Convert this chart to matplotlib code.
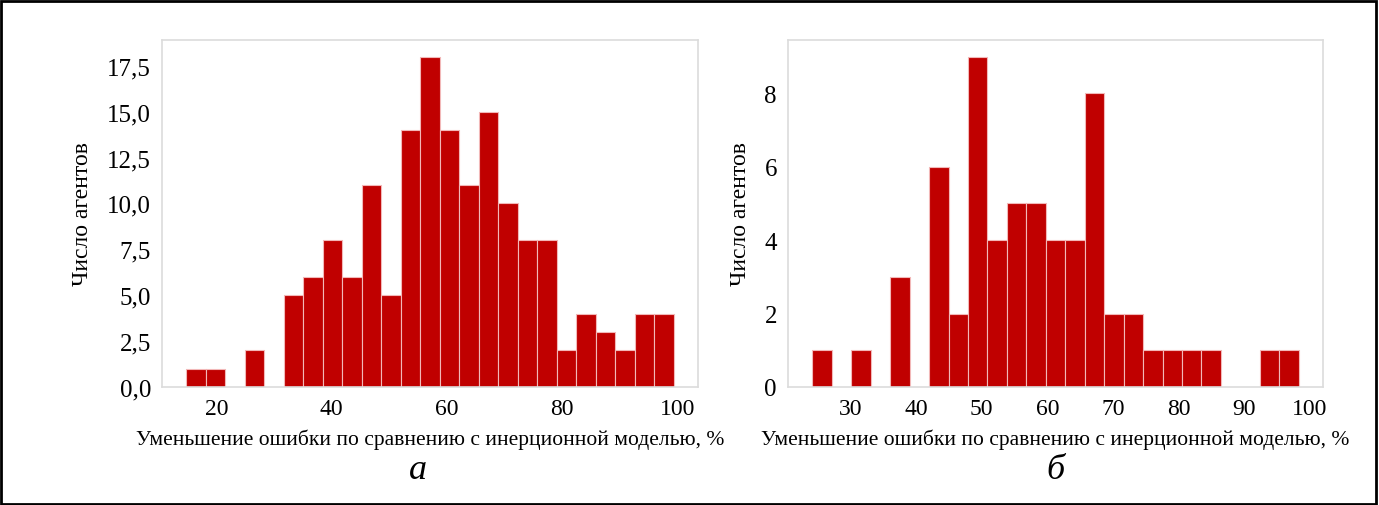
import numpy as np
import matplotlib
matplotlib.use("Agg")
import matplotlib.pyplot as plt
from matplotlib.patches import Rectangle
from matplotlib.ticker import FuncFormatter, MultipleLocator, FixedLocator

# ------------------------------------------------------------------ data
counts_a = [1, 1, 0, 2, 0, 5, 6, 8, 6, 11, 5, 14, 18, 14, 11, 15, 10, 8, 8,
            2, 4, 3, 2, 4, 4]
range_a = (14.8, 99.3)
counts_b = [1, 0, 1, 0, 3, 0, 6, 2, 9, 4, 5, 5, 4, 4, 8, 2, 2, 1, 1, 1, 1,
            0, 0, 1, 1]
range_b = (24.2, 98.3)
xticks_b = [30, 40, 50, 60, 70, 80, 90, 100]

xlabel = "Уменьшение ошибки по сравнению с инерционной моделью, %"
ylabel = "Число агентов"
panel_tags = ["а", "б"]

plt.rcParams["font.family"] = ["Liberation Serif", "DejaVu Serif"]
W, H = 1379, 506
fig = plt.figure(figsize=(W / 100, H / 100), dpi=100)

def box(x0, x1, y0, y1):
    return [x0 / W, 1 - y1 / H, (x1 - x0) / W, (y1 - y0) / H]

ax_a = fig.add_axes(box(162, 698, 41, 388))
ax_b = fig.add_axes(box(788, 1323, 41, 388))

for ax, counts, rng, tag, tx in [(ax_a, counts_a, range_a, panel_tags[0], 418),
                                 (ax_b, counts_b, range_b, panel_tags[1], 1055)]:
    edges = np.linspace(rng[0], rng[1], len(counts) + 1)
    ax.bar(edges[:-1], counts, width=np.diff(edges), align="edge",
           color="#c00000", edgecolor="#f2b8b8", linewidth=0.8)
    for s in ax.spines.values():
        s.set_color("#dcdcdc")
        s.set_linewidth(1.2)
    ax.tick_params(length=0, pad=8)
    ax.tick_params(axis="y", labelsize=18)
    ax.tick_params(axis="x", labelsize=17)
    ax.set_xlabel(xlabel, fontsize=15.5, labelpad=7)
    ax.set_ylabel(ylabel, fontsize=17, labelpad=10)
    fig.text(tx / W, 1 - 471 / H, tag, fontsize=26, style="italic",
             ha="center", va="center")

ax_a.yaxis.set_major_locator(MultipleLocator(2.5))
ax_a.yaxis.set_major_formatter(
    FuncFormatter(lambda v, p: f"{v:.1f}".replace(".", ",")))
ax_b.yaxis.set_major_locator(MultipleLocator(2))
ax_b.xaxis.set_major_locator(FixedLocator(xticks_b))

fig.add_artist(Rectangle((0.001, 0.002), 0.997, 0.995, transform=fig.transFigure,
                         fill=False, edgecolor="black", linewidth=2))

fig.savefig("out.png", dpi=100)
